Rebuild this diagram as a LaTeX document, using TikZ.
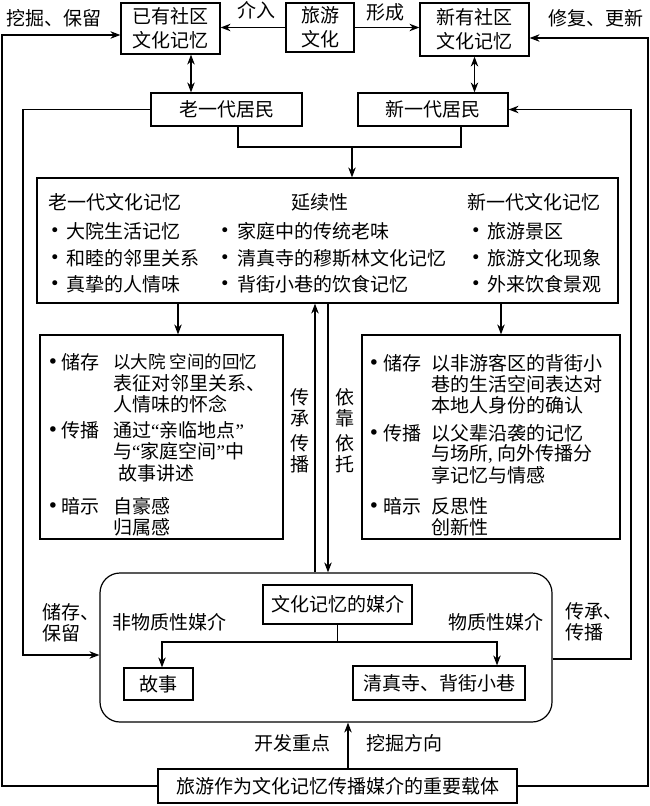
\documentclass[tikz,border=0pt]{standalone}
\usepackage{fontspec}
\setmainfont{Noto Sans CJK SC}
\newfontfamily\latinfont{Liberation Serif}
\newfontfamily\bulfont{DejaVu Sans}
\newcommand{\myoq}{{\latinfont “}}
\newcommand{\mycq}{{\latinfont ”}}
\usetikzlibrary{arrows.meta}
\tikzset{
  every node/.style={font=\fontsize{19}{22}\selectfont, text=black},
  box/.style={draw, line width=1.2pt, inner sep=0pt, align=center},
  ln/.style={line width=1.2pt},
  arr/.style={line width=1.2pt, -{Stealth[length=10pt,width=7.5pt]}},
  darr/.style={line width=1.2pt, {Stealth[length=10pt,width=7.5pt]}-{Stealth[length=10pt,width=7.5pt]}},
  txt/.style={inner sep=0pt, anchor=west},
  lbl/.style={inner sep=0pt, align=center},
  bul/.style={inner sep=0pt, font=\bulfont\fontsize{17}{20}\selectfont},
  bulb/.style={inner sep=0pt, font=\bulfont\fontsize{19}{20}\selectfont},
}
\begin{document}
\begin{tikzpicture}[x=1pt,y=-1pt]
\useasboundingbox (0,0) rectangle (650,806);
% top row
\node[box, minimum width=99pt, minimum height=51pt, font=\fontsize{19}{24}\selectfont] (yiyou) at (170.5,28.5) {已有社区\\文化记忆};
\node[box, minimum width=68pt, minimum height=49pt, font=\fontsize{19}{24}\selectfont] (lvyou) at (320,27.5) {旅游\\文化};
\node[box, minimum width=109pt, minimum height=53pt, font=\fontsize{19}{24}\selectfont] (xinyou) at (474.5,29.5) {新有社区\\文化记忆};
\node[lbl] (jieru) at (256,10) {介入};
\node[lbl] (xingcheng) at (385,12) {形成};
\node[lbl] (wajue) at (54,18) {挖掘、保留};
\node[lbl] (xiufu) at (596,18) {修复、更新};
% residents
\node[box, minimum width=151pt, minimum height=33pt] (lao) at (226.5,109.5) {老一代居民};
\node[box, minimum width=150pt, minimum height=33pt] (xin) at (433,109.5) {新一代居民};
% big box
\node[box, minimum width=581pt, minimum height=125pt] (big) at (327.5,240.5) {};
\node[txt] (h1) at (48,202) {老一代文化记忆};
\node[lbl] (h2) at (320,202) {延续性};
\node[txt] (h3) at (467,202) {新一代文化记忆};
\node[bul] (ba1) at (55,232) {•};
\node[bul] (ba2) at (55,259) {•};
\node[bul] (ba3) at (55,285) {•};
\node[txt] (ta1) at (66,231) {大院生活记忆};
\node[txt] (ta2) at (66,258) {和睦的邻里关系};
\node[txt] (ta3) at (66,284) {真挚的人情味};
\node[bul] (bb1) at (225,232) {•};
\node[bul] (bb2) at (225,259) {•};
\node[bul] (bb3) at (225,285) {•};
\node[txt] (tb1) at (237,231) {家庭中的传统老味};
\node[txt] (tb2) at (237,258) {清真寺的穆斯林文化记忆};
\node[txt] (tb3) at (237,284) {背街小巷的饮食记忆};
\node[bul] (bc1) at (476,232) {•};
\node[bul] (bc2) at (476,259) {•};
\node[bul] (bc3) at (476,285) {•};
\node[txt] (tc1) at (487,231) {旅游景区};
\node[txt] (tc2) at (487,258) {旅游文化现象};
\node[txt] (tc3) at (487,284) {外来饮食景观};
% left box
\node[box, minimum width=243pt, minimum height=204pt] (lbox) at (161.5,437) {};
\node[bulb] (lb1) at (53,364) {•};
\node[txt] (lk1) at (61,362) {储存};
\node[txt, font=\fontsize{17.5}{20}\selectfont] (lc1) at (113,362) {以大院\hspace{4pt}空间的回忆};
\node[txt] (lc2) at (113,383) {表征对邻里关系、};
\node[txt] (lc3) at (113,404) {人情味的怀念};
\node[bulb] (lb2) at (53,432) {•};
\node[txt] (lk2) at (61,430) {传播};
\node[txt] (lc4) at (113,430) {通过\myoq 亲临地点\mycq};
\node[txt] (lc5) at (113,451) {与\myoq 家庭空间\mycq 中};
\node[txt] (lc6) at (118,473) {故事讲述};
\node[bulb] (lb3) at (53,508) {•};
\node[txt] (lk3) at (61,506) {暗示};
\node[txt] (lc7) at (113,506) {自豪感};
\node[txt] (lc8) at (113,527) {归属感};
% right box
\node[box, minimum width=258pt, minimum height=204pt] (rbox) at (491,437) {};
\node[bulb] (rb1) at (374,365) {•};
\node[txt] (rk1) at (383,363) {储存};
\node[txt] (rc1) at (431,363) {以非游客区的背街小};
\node[txt] (rc2) at (431,384) {巷的生活空间表达对};
\node[txt] (rc3) at (431,405) {本地人身份的确认};
\node[bulb] (rb2) at (374,435) {•};
\node[txt] (rk2) at (383,433) {传播};
\node[txt] (rc4) at (431,433) {以父辈沿袭的记忆};
\node[txt] (rc5) at (431,454) {与场所{\latinfont ,} 向外传播分};
\node[txt] (rc6) at (431,475) {享记忆与情感};
\node[bulb] (rb3) at (374,508) {•};
\node[txt] (rk3) at (383,506) {暗示};
\node[txt] (rc7) at (431,506) {反思性};
\node[txt] (rc8) at (431,527) {创新性};
% vertical labels
\node[lbl, font=\fontsize{19}{21}\selectfont] (v1) at (300,408) {传\\承};
\node[lbl, font=\fontsize{19}{21}\selectfont] (v2) at (300,454) {传\\播};
\node[lbl, font=\fontsize{19}{21}\selectfont] (v3) at (345,408) {依\\靠};
\node[lbl, font=\fontsize{19}{21}\selectfont] (v4) at (345,454) {依\\托};
% media area
\node[box, rounded corners=20pt, minimum width=452pt, minimum height=149pt] (round) at (326,647.5) {};
\node[box, minimum width=149pt, minimum height=39pt] (media) at (337.5,604.5) {文化记忆的媒介};
\node[lbl] (fei) at (169,622) {非物质性媒介};
\node[lbl] (wu) at (496,622) {物质性媒介};
\node[box, minimum width=69pt, minimum height=32pt] (gushi) at (158.5,684) {故事};
\node[box, minimum width=172pt, minimum height=34pt] (qzs) at (439,683) {清真寺、背街小巷};
\node[lbl, align=left, anchor=west, font=\fontsize{19}{21}\selectfont] (cunchu) at (42,622.5) {储存、\\保留};
\node[lbl, align=left, anchor=west, font=\fontsize{19}{21}\selectfont] (chuancheng) at (565,621.5) {传承、\\传播};
% bottom
\node[box, minimum width=359pt, minimum height=34pt] (bot) at (337.5,786) {旅游作为文化记忆传播媒介的重要载体};
\node[lbl] (kaifa) at (292,743) {开发重点};
\node[lbl] (fangxiang) at (404,743) {挖掘方向};
% coordinates
\coordinate (L1) at (2,35);
\coordinate (R1) at (648,38);
\coordinate (L2) at (23,655);
\coordinate (R2) at (631,659);
\coordinate (J) at (352,147);
\coordinate (JL) at (238,0);
\coordinate (JR) at (461,0);
\coordinate (D1) at (191,0);
\coordinate (A1) at (178,0);
\coordinate (A2) at (501,0);
\coordinate (U) at (315,0);
\coordinate (Dn) at (328,0);
\coordinate (S1) at (162,642);
\coordinate (S2) at (497,642);
\coordinate (B) at (348,0);
% connectors
\draw[arr] (lvyou.west) -- (lvyou.west -| yiyou.east);
\draw[arr] (lvyou.east) -- (lvyou.east -| xinyou.west);
\draw[arr] (bot.west) -| (L1) -- (L1 -| yiyou.west);
\draw[arr] (bot.east) -| (R1) -- (R1 -| xinyou.east);
\draw[darr] (yiyou.south -| D1) -- (lao.north -| D1);
\draw[darr] (xinyou.south) -- (xinyou.south |- xin.north);
\draw[arr] (lao.west) -| (L2) -- (L2 -| round.west);
\draw[arr] (R2 -| round.east) -- (R2) |- (xin.east);
\draw[ln] (lao.south -| JL) |- (JR |- J) -- (xin.south -| JR);
\draw[arr] (J) -- (J |- big.north);
\draw[arr] (big.south -| A1) -- (lbox.north -| A1);
\draw[arr] (big.south -| A2) -- (rbox.north -| A2);
\draw[arr] (round.north -| U) -- (big.south -| U);
\draw[arr] (big.south -| Dn) -- (round.north -| Dn);
\draw[arr] (media.south) |- (S1) -- (S1 |- gushi.north);
\draw[arr] (media.south) |- (S2) -- (S2 |- qzs.north);
\draw[arr] (bot.north -| B) -- (round.south -| B);
\end{tikzpicture}
\end{document}
